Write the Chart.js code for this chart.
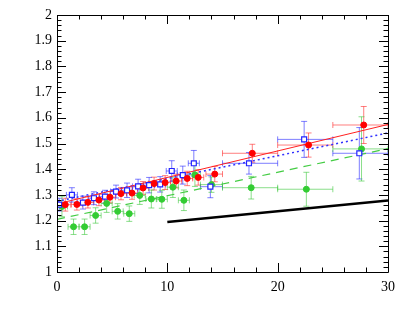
<!DOCTYPE html>
<html>
<head>
<meta charset="utf-8">
<script src="https://cdn.jsdelivr.net/npm/chart.js@4.4.0/dist/chart.umd.min.js"></script>
<style>
    html, body { margin: 0; padding: 0; background: #ffffff; }
</style>
</head>
<body>
<canvas id="ratioChart" width="409" height="327"></canvas>
<script>
// red: filled circles
const redX = [0.75, 1.8, 2.8, 3.8, 4.8, 5.8, 6.8, 7.8, 8.8, 9.8, 10.8, 11.8, 12.8, 14.3, 17.7, 22.8, 27.8];
const redY = [1.262, 1.263, 1.271, 1.280, 1.291, 1.305, 1.307, 1.327, 1.344, 1.348, 1.354, 1.364, 1.368, 1.381, 1.462, 1.494, 1.572];
const redXLo = [0.5, 0.5, 0.5, 0.5, 0.5, 0.5, 0.5, 0.5, 0.5, 0.5, 0.5, 0.5, 0.5, 0.8, 2.7, 2.8, 2.8];
const redXHi = [0.5, 0.5, 0.5, 0.5, 0.5, 0.5, 0.5, 0.5, 0.5, 0.5, 0.5, 0.5, 0.5, 0.7, 2.3, 2.2, 2.2];
const redYErr = [0.025, 0.022, 0.022, 0.022, 0.022, 0.024, 0.024, 0.025, 0.025, 0.027, 0.027, 0.028, 0.03, 0.03, 0.035, 0.047, 0.072];

// blue: open squares
const blueX = [0.2, 1.35, 2.35, 3.35, 4.35, 5.35, 6.35, 7.35, 8.35, 9.35, 10.4, 11.4, 12.4, 13.9, 17.4, 22.4, 27.4];
const blueY = [1.262, 1.300, 1.270, 1.287, 1.293, 1.313, 1.318, 1.333, 1.338, 1.341, 1.393, 1.377, 1.423, 1.332, 1.423, 1.516, 1.462];
const blueXLo = [0.2, 0.5, 0.5, 0.5, 0.5, 0.5, 0.5, 0.5, 0.5, 0.5, 0.5, 0.5, 0.5, 0.9, 2.4, 2.4, 2.4];
const blueXHi = [0.5, 0.5, 0.5, 0.5, 0.5, 0.5, 0.5, 0.5, 0.5, 0.5, 0.5, 0.5, 0.5, 1.1, 2.6, 2.6, 2.6];
const blueYErr = [0.025, 0.028, 0.025, 0.025, 0.025, 0.025, 0.028, 0.028, 0.03, 0.03, 0.04, 0.035, 0.05, 0.043, 0.042, 0.07, 0.1];

// green: filled circles
const greenX = [0.45, 1.5, 2.5, 3.5, 4.5, 5.5, 6.55, 7.5, 8.55, 9.5, 10.5, 11.5, 12.5, 14.0, 17.6, 22.6, 27.6];
const greenY = [1.255, 1.176, 1.176, 1.220, 1.267, 1.236, 1.227, 1.298, 1.284, 1.283, 1.330, 1.279, 1.378, 1.340, 1.328, 1.322, 1.479];
const greenXLo = [0.45, 0.5, 0.5, 0.5, 0.5, 0.5, 0.5, 0.5, 0.5, 0.5, 0.5, 0.5, 0.5, 1.0, 2.6, 2.6, 2.6];
const greenXHi = [0.5, 0.5, 0.5, 0.5, 0.5, 0.5, 0.5, 0.5, 0.5, 0.5, 0.5, 0.5, 0.5, 1.0, 2.4, 2.4, 2.4];
const greenYErr = [0.04, 0.03, 0.03, 0.03, 0.035, 0.03, 0.03, 0.035, 0.035, 0.035, 0.04, 0.04, 0.045, 0.03, 0.044, 0.066, 0.125];

// straight lines
const fitX = [0, 30];
const redFitY = [1.265, 1.574];
const blueFitY = [1.275, 1.541];
const greenFitY = [1.205, 1.480];
const blackX = [10, 30];
const blackY = [1.195, 1.278];

// axis ticks
const xMajor = [0, 10, 20, 30];
const xMinorStep = 2;
const yMinorStep = 0.02;

function toPoints(xs, ys) {
    return xs.map(function (x, i) { return { x: x, y: ys[i] }; });
}

const errorBarPlugin = {
    id: 'errorBars',
    beforeDatasetsDraw: function (chart) {
        const ctx = chart.ctx;
        const xs = chart.scales.x;
        const ys = chart.scales.y;
        const area = chart.chartArea;
        ctx.save();
        ctx.beginPath();
        ctx.rect(area.left, area.top, area.right - area.left, area.bottom - area.top);
        ctx.clip();
        chart.data.datasets.forEach(function (ds) {
            if (!ds.yErr) return;
            ctx.strokeStyle = ds.errColor;
            ctx.lineWidth = 1;
            ds.data.forEach(function (p, i) {
                const px = xs.getPixelForValue(p.x);
                const py = ys.getPixelForValue(p.y);
                const xl = xs.getPixelForValue(p.x - ds.xLo[i]);
                const xh = xs.getPixelForValue(p.x + ds.xHi[i]);
                const yl = ys.getPixelForValue(p.y - ds.yErr[i]);
                const yh = ys.getPixelForValue(p.y + ds.yErr[i]);
                ctx.beginPath();
                ctx.moveTo(xl, py); ctx.lineTo(xh, py);
                ctx.moveTo(px, yl); ctx.lineTo(px, yh);
                // caps
                ctx.moveTo(xl, py - 3); ctx.lineTo(xl, py + 3);
                ctx.moveTo(xh, py - 3); ctx.lineTo(xh, py + 3);
                ctx.moveTo(px - 3, yl); ctx.lineTo(px + 3, yl);
                ctx.moveTo(px - 3, yh); ctx.lineTo(px + 3, yh);
                ctx.stroke();
            });
        });
        ctx.restore();
    }
};

const framePlugin = {
    id: 'rootFrame',
    afterDraw: function (chart) {
        const ctx = chart.ctx;
        const xs = chart.scales.x;
        const ys = chart.scales.y;
        const a = chart.chartArea;
        ctx.save();
        ctx.strokeStyle = '#000';
        ctx.lineWidth = 1;
        ctx.beginPath();
        ctx.rect(Math.round(a.left) + 0.5, Math.round(a.top) + 0.5, Math.round(a.right - a.left), Math.round(a.bottom - a.top));
        ctx.stroke();

        ctx.beginPath();
        for (let v = 0; v <= 30.001; v += xMinorStep) {
            const px = Math.round(xs.getPixelForValue(v)) + 0.5;
            const len = xMajor.indexOf(Math.round(v)) >= 0 && Math.abs(v - Math.round(v)) < 1e-6 && Math.round(v) % 10 === 0 ? 9 : 4.5;
            ctx.moveTo(px, a.bottom); ctx.lineTo(px, a.bottom - len);
            ctx.moveTo(px, a.top); ctx.lineTo(px, a.top + len);
        }
        for (let k = 0; k <= 50; k++) {
            const v = 1 + k * yMinorStep;
            const py = Math.round(ys.getPixelForValue(v)) + 0.5;
            const len = k % 5 === 0 ? 9 : 4.5;
            ctx.moveTo(a.left, py); ctx.lineTo(a.left + len, py);
            ctx.moveTo(a.right, py); ctx.lineTo(a.right - len, py);
        }
        ctx.stroke();
        ctx.restore();
    }
};

function lineSet(xs, ys, color, width, dash) {
    return {
        type: 'line',
        data: toPoints(xs, ys),
        borderColor: color,
        borderWidth: width,
        borderDash: dash,
        pointRadius: 0,
        fill: false,
        tension: 0
    };
}

new Chart(document.getElementById('ratioChart'), {
    type: 'scatter',
    data: {
        datasets: [
            {
                data: toPoints(redX, redY),
                xLo: redXLo, xHi: redXHi, yErr: redYErr,
                errColor: 'rgba(255, 40, 40, 0.6)',
                pointStyle: 'circle',
                pointRadius: 3,
                backgroundColor: '#ff0000',
                borderColor: '#ff0000',
                borderWidth: 1
            },
            {
                data: toPoints(blueX, blueY),
                xLo: blueXLo, xHi: blueXHi, yErr: blueYErr,
                errColor: 'rgba(40, 40, 255, 0.6)',
                pointStyle: 'rect',
                pointRadius: 3.5,
                backgroundColor: '#ffffff',
                borderColor: '#2222ff',
                borderWidth: 1.2
            },
            {
                data: toPoints(greenX, greenY),
                xLo: greenXLo, xHi: greenXHi, yErr: greenYErr,
                errColor: 'rgba(60, 200, 60, 0.6)',
                pointStyle: 'circle',
                pointRadius: 3,
                backgroundColor: '#33cc33',
                borderColor: '#33cc33',
                borderWidth: 1
            },
            lineSet(fitX, redFitY, '#ff2020', 1, []),
            lineSet(fitX, blueFitY, '#3030ff', 1.5, [2, 3]),
            lineSet(fitX, greenFitY, '#44cc44', 1.2, [8, 6]),
            lineSet(blackX, blackY, '#000000', 2.5, [])
        ]
    },
    options: {
        responsive: false,
        animation: false,
        layout: { padding: { top: 15, right: 21, left: 0, bottom: 0 } },
        plugins: {
            legend: { display: false },
            tooltip: { enabled: false }
        },
        scales: {
            x: {
                type: 'linear',
                min: 0,
                max: 30,
                grid: { display: false, drawTicks: false },
                border: { display: false },
                afterFit: function (scale) { scale.height = 55; },
                ticks: {
                    stepSize: 10,
                    padding: 7,
                    color: '#000',
                    maxRotation: 0,
                    font: { family: 'Liberation Serif', size: 14 }
                }
            },
            y: {
                type: 'linear',
                min: 1,
                max: 2,
                grid: { display: false, drawTicks: false },
                border: { display: false },
                afterFit: function (scale) { scale.width = 57; },
                ticks: {
                    stepSize: 0.1,
                    padding: 5,
                    color: '#000',
                    font: { family: 'Liberation Serif', size: 14 },
                    callback: function (v) { return String(Math.round(v * 10) / 10); }
                }
            }
        }
    },
    plugins: [errorBarPlugin, framePlugin]
});
</script>
</body>
</html>
